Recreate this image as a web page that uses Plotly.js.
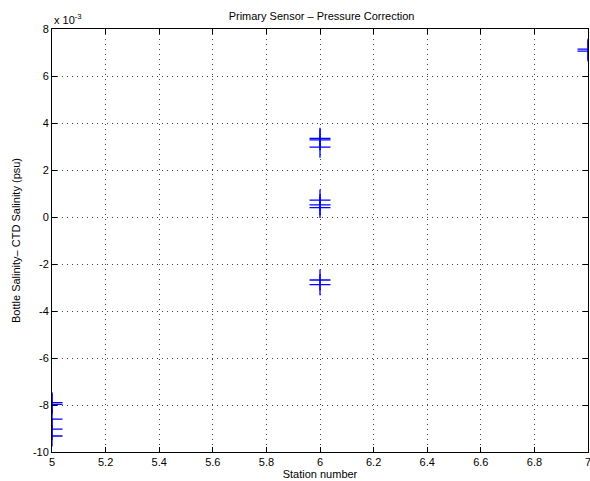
<!DOCTYPE html>
<html>
<head>
<meta charset="utf-8">
<script src="https://cdn.plot.ly/plotly-3.0.1.min.js"></script>
<style>html,body{margin:0;padding:0;background:#fff;}#chart{width:590px;height:481px;}</style>
</head>
<body>
<div id="chart"></div>
<script>
// Station numbers and salinity differences (units of 10^-3 psu)
var stations = [5, 5, 5, 5, 5, 6, 6, 6, 6, 6, 6, 6, 6, 7, 7];
var salinityDiff = [-7.90, -7.97, -8.60, -9.03, -9.32, 3.35, 3.28, 2.97, 0.72, 0.52, 0.40, -2.68, -2.88, 7.14, 7.06];
var xTicks = [5, 5.2, 5.4, 5.6, 5.8, 6, 6.2, 6.4, 6.6, 6.8, 7];
var xTickText = ['5', '5.2', '5.4', '5.6', '5.8', '6', '6.2', '6.4', '6.6', '6.8', '7'];
var yTicks = [-10, -8, -6, -4, -2, 0, 2, 4, 6, 8];
var yTickText = ['-10', '-8', '-6', '-4', '-2', '0', '2', '4', '6', '8'];

var font = {family: 'Liberation Sans, Arial, Helvetica, sans-serif', size: 11, color: '#000'};

var trace = {
  x: stations,
  y: salinityDiff,
  type: 'scatter',
  mode: 'markers',
  marker: {symbol: 'cross-thin-open', size: 15, color: '#0000ff', line: {color: '#0000ff', width: 1.3}},
  cliponaxis: true,
  hoverinfo: 'skip'
};

var axisCommon = {
  showline: true, linecolor: '#000', linewidth: 1, mirror: 'ticks',
  ticks: 'inside', ticklen: 5, tickcolor: '#000', tickwidth: 1,
  showgrid: true, gridcolor: '#444', griddash: '1px,4px', gridwidth: 1,
  zeroline: false, tickfont: font, ticklabeloverflow: 'allow'
};

var layout = {
  width: 590, height: 481,
  margin: {l: 52, r: 2, t: 29, b: 29},
  paper_bgcolor: '#fff', plot_bgcolor: '#fff',
  font: font,
  showlegend: false,
  title: {text: 'Primary Sensor – Pressure Correction', font: font, x: 0.545, xanchor: 'center', y: 0.975, yanchor: 'top'},
  xaxis: Object.assign({}, axisCommon, {
    range: [5, 7], tickvals: xTicks, ticktext: xTickText,
    title: {text: 'Station number', font: font, standoff: 2}
  }),
  yaxis: Object.assign({}, axisCommon, {
    range: [-10, 8], tickvals: yTicks, ticktext: yTickText,
    title: {text: 'Bottle Salinity– CTD Salinity (psu)', font: font, standoff: 10}
  }),
  annotations: [{
    xref: 'paper', yref: 'paper', x: 0, y: 1, xanchor: 'left', yanchor: 'bottom',
    xshift: 0, yshift: 1, showarrow: false,
    text: 'x 10<sup>-3</sup>', font: font
  }]
};

Plotly.newPlot('chart', [trace], layout, {displayModeBar: false, staticPlot: true});
</script>
</body>
</html>
